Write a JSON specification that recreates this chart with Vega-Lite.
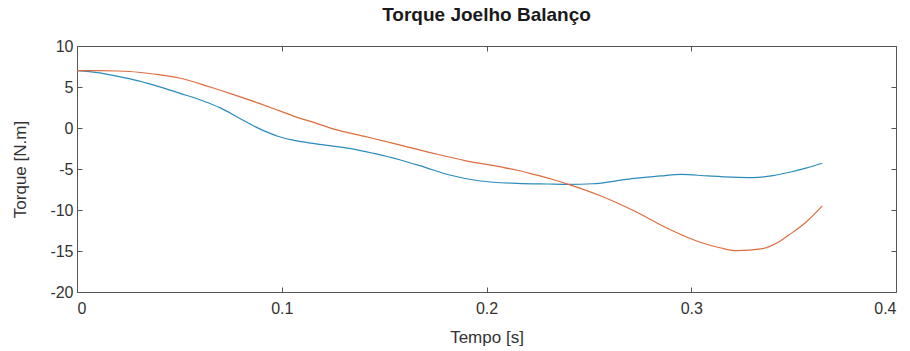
{
  "$schema": "https://vega.github.io/schema/vega-lite/v6.json",
  "autosize": {"type": "none"},
  "padding": {"left": 77, "top": 46, "right": 14, "bottom": 59},
  "width": 819,
  "height": 246,
  "background": "white",
  "title": {
    "text": "Torque Joelho Balanço",
    "fontSize": 19,
    "fontWeight": "bold",
    "font": "Liberation Sans",
    "color": "#1a1a1a",
    "offset": 13
  },
  "config": {
    "view": {"stroke": "#555555", "strokeWidth": 1},
    "axis": {
      "grid": false,
      "domain": false,
      "tickColor": "#555555",
      "tickSize": 5,
      "offset": -5,
      "labelFont": "Liberation Sans",
      "labelFontSize": 16,
      "labelColor": "#333333",
      "titleFont": "Liberation Sans",
      "titleFontSize": 17,
      "titleFontWeight": "normal",
      "titleColor": "#333333",
      "labelExpr": "'' + datum.value"
    }
  },
  "data": {
    "values": [
      {"t": 0.0, "v": 7.0, "s": "A"},
      {"t": 0.01, "v": 6.75, "s": "A"},
      {"t": 0.02, "v": 6.3, "s": "A"},
      {"t": 0.03, "v": 5.75, "s": "A"},
      {"t": 0.04, "v": 5.05, "s": "A"},
      {"t": 0.05, "v": 4.25, "s": "A"},
      {"t": 0.06, "v": 3.45, "s": "A"},
      {"t": 0.07, "v": 2.45, "s": "A"},
      {"t": 0.08, "v": 1.1, "s": "A"},
      {"t": 0.09, "v": -0.2, "s": "A"},
      {"t": 0.098, "v": -1.0, "s": "A"},
      {"t": 0.105, "v": -1.45, "s": "A"},
      {"t": 0.114, "v": -1.85, "s": "A"},
      {"t": 0.125, "v": -2.2, "s": "A"},
      {"t": 0.133, "v": -2.48, "s": "A"},
      {"t": 0.145, "v": -3.1, "s": "A"},
      {"t": 0.158, "v": -3.9, "s": "A"},
      {"t": 0.17, "v": -4.8, "s": "A"},
      {"t": 0.182, "v": -5.73, "s": "A"},
      {"t": 0.197, "v": -6.46, "s": "A"},
      {"t": 0.215, "v": -6.75, "s": "A"},
      {"t": 0.23, "v": -6.83, "s": "A"},
      {"t": 0.24, "v": -6.87, "s": "A"},
      {"t": 0.252, "v": -6.8, "s": "A"},
      {"t": 0.262, "v": -6.5, "s": "A"},
      {"t": 0.272, "v": -6.14, "s": "A"},
      {"t": 0.285, "v": -5.85, "s": "A"},
      {"t": 0.295, "v": -5.65, "s": "A"},
      {"t": 0.308, "v": -5.85, "s": "A"},
      {"t": 0.32, "v": -6.0, "s": "A"},
      {"t": 0.33, "v": -6.05, "s": "A"},
      {"t": 0.34, "v": -5.8, "s": "A"},
      {"t": 0.348, "v": -5.4, "s": "A"},
      {"t": 0.356, "v": -4.9, "s": "A"},
      {"t": 0.364, "v": -4.3, "s": "A"},
      {"t": 0.0, "v": 7.0, "s": "B"},
      {"t": 0.01, "v": 7.0, "s": "B"},
      {"t": 0.02, "v": 6.95, "s": "B"},
      {"t": 0.03, "v": 6.8, "s": "B"},
      {"t": 0.04, "v": 6.5, "s": "B"},
      {"t": 0.05, "v": 6.1, "s": "B"},
      {"t": 0.065, "v": 5.0, "s": "B"},
      {"t": 0.075, "v": 4.2, "s": "B"},
      {"t": 0.089, "v": 3.0, "s": "B"},
      {"t": 0.1, "v": 2.0, "s": "B"},
      {"t": 0.109, "v": 1.18, "s": "B"},
      {"t": 0.114, "v": 0.8, "s": "B"},
      {"t": 0.125, "v": -0.1, "s": "B"},
      {"t": 0.14, "v": -1.0, "s": "B"},
      {"t": 0.155, "v": -1.9, "s": "B"},
      {"t": 0.174, "v": -3.09, "s": "B"},
      {"t": 0.19, "v": -4.0, "s": "B"},
      {"t": 0.207, "v": -4.75, "s": "B"},
      {"t": 0.215, "v": -5.15, "s": "B"},
      {"t": 0.223, "v": -5.65, "s": "B"},
      {"t": 0.232, "v": -6.25, "s": "B"},
      {"t": 0.24, "v": -6.87, "s": "B"},
      {"t": 0.255, "v": -8.2, "s": "B"},
      {"t": 0.272, "v": -10.1, "s": "B"},
      {"t": 0.288, "v": -12.2, "s": "B"},
      {"t": 0.304, "v": -13.9, "s": "B"},
      {"t": 0.314, "v": -14.6, "s": "B"},
      {"t": 0.322, "v": -14.96, "s": "B"},
      {"t": 0.335, "v": -14.7, "s": "B"},
      {"t": 0.342, "v": -14.0, "s": "B"},
      {"t": 0.348, "v": -13.0, "s": "B"},
      {"t": 0.356, "v": -11.5, "s": "B"},
      {"t": 0.364, "v": -9.5, "s": "B"}
    ]
  },
  "layer": [
    {
      "mark": {"type": "line", "strokeWidth": 1.2, "interpolate": "monotone"},
      "encoding": {
        "x": {
          "field": "t", "type": "quantitative",
          "scale": {"domain": [0, 0.4], "nice": false},
          "axis": {"orient": "bottom", "values": [0, 0.1, 0.2, 0.3, 0.4], "title": "Tempo [s]", "labelPadding": 8, "titlePadding": 13}
        },
        "y": {
          "field": "v", "type": "quantitative",
          "scale": {"domain": [-20, 10], "nice": false, "zero": false},
          "axis": {"orient": "left", "values": [-20, -15, -10, -5, 0, 5, 10], "title": "Torque [N.m]", "labelPadding": 4, "titlePadding": 20}
        },
        "color": {
          "field": "s", "type": "nominal",
          "scale": {"domain": ["A", "B"], "range": ["#2a8cbb", "#de6d3e"]},
          "legend": null
        }
      }
    },
    {
      "mark": {"type": "point", "opacity": 0},
      "encoding": {
        "x": {
          "field": "t", "type": "quantitative",
          "axis": {"orient": "top", "values": [0, 0.1, 0.2, 0.3, 0.4], "labels": false, "title": null}
        },
        "y": {
          "field": "v", "type": "quantitative",
          "axis": {"orient": "right", "values": [-20, -15, -10, -5, 0, 5, 10], "labels": false, "title": null}
        }
      }
    }
  ],
  "resolve": {"axis": {"x": "independent", "y": "independent"}}
}
